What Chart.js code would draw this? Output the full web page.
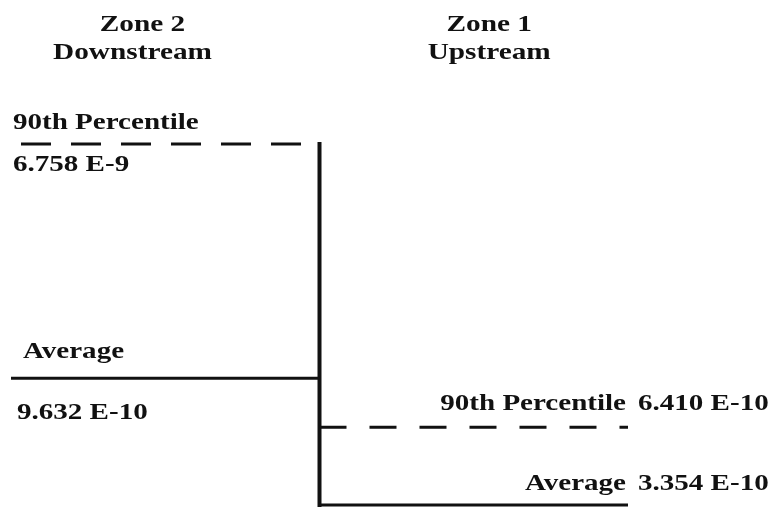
<!DOCTYPE html>
<html>
<head>
<meta charset="utf-8">
<script src="https://cdn.jsdelivr.net/npm/chart.js@4.4.1/dist/chart.umd.min.js"></script>
<style>
  html, body { margin: 0; padding: 0; background: #fff; }
  #wrap { width: 776px; height: 507px; }
</style>
</head>
<body>
<div id="wrap"><canvas id="zoneChart" width="776" height="507"></canvas></div>
<script>
// zones, left to right on the drawing
const zoneNames = ['Zone 2', 'Zone 1'];
const zoneSubtitles = ['Downstream', 'Upstream'];
const zoneStart = [0, 1];          // each zone spans one unit on the x axis
const percentile90 = [6.758e-9, 6.410e-10];
const average = [9.632e-10, 3.354e-10];
const seriesNames = ['90th Percentile', 'Average'];

function fmt(v) {
    // 6.758e-9 -> "6.758 E-9"
    return v.toExponential(3).replace('e', ' E').replace('+', '');
}

const INK = '#111';
const SERIF = '"Liberation Serif", "Times New Roman", serif';
const HEAD_FONT = 'bold 24px ' + SERIF;
const LABEL_FONT = 'bold 24px ' + SERIF;

// the original lettering is stretched sideways
function stretched(ctx, text, x, y, align, sx) {
    ctx.save();
    ctx.translate(x, y);
    ctx.scale(sx, 1);
    ctx.textAlign = align;
    ctx.fillText(text, 0, 0);
    ctx.restore();
}

const labelPlugin = {
    id: 'zoneLabels',
    afterDraw(chart) {
        const ctx = chart.ctx;
        const xs = chart.scales.x;
        const ys = chart.scales.y;
        ctx.save();
        ctx.fillStyle = INK;
        ctx.textBaseline = 'alphabetic';

        // zone headings
        ctx.font = HEAD_FONT;
        const headX = [0.41, 1.55];
        zoneNames.forEach((name, i) => {
            const cx = xs.getPixelForValue(headX[i]);
            stretched(ctx, name, cx + (i === 0 ? 5 : 0), 31, 'center', 1.22);
            stretched(ctx, zoneSubtitles[i], cx - (i === 0 ? 5 : 0), 59, 'center', 1.22);
        });

        ctx.font = LABEL_FONT;
        const sx = 1.21;
        // zone 2: names above the lines, values below
        const left = xs.getPixelForValue(zoneStart[0]);
        let y = ys.getPixelForValue(percentile90[0]);
        stretched(ctx, seriesNames[0], left + 2, y - 15, 'left', sx);
        stretched(ctx, fmt(percentile90[0]), left + 2, y + 27, 'left', sx);
        y = ys.getPixelForValue(average[0]);
        stretched(ctx, seriesNames[1], left + 12, y - 20, 'left', sx);
        stretched(ctx, fmt(average[0]), left + 6, y + 41, 'left', sx);

        // zone 1: names and values beside the line ends
        const right = xs.getPixelForValue(zoneStart[1] + 1);
        y = ys.getPixelForValue(percentile90[1]);
        stretched(ctx, seriesNames[0], right - 2, y - 17, 'right', sx);
        stretched(ctx, fmt(percentile90[1]), right + 10, y - 17, 'left', sx);
        y = ys.getPixelForValue(average[1]);
        stretched(ctx, seriesNames[1], right - 2, y - 15, 'right', sx);
        stretched(ctx, fmt(average[1]), right + 10, y - 15, 'left', sx);
        ctx.restore();
    }
};

const datasets = [];
zoneNames.forEach((name, i) => {
    const x0 = zoneStart[i], x1 = zoneStart[i] + 1;
    datasets.push({
        label: name + ' ' + seriesNames[0],
        data: [{ x: x0, y: percentile90[i] }, { x: x1, y: percentile90[i] }],
        borderColor: INK,
        borderWidth: 3,
        borderDash: i === 0 ? [30, 20] : [27, 23],
        borderDashOffset: i === 0 ? 40 : 0,
        pointRadius: 0
    });
    datasets.push({
        label: name + ' ' + seriesNames[1],
        data: [{ x: x0, y: average[i] }, { x: x1, y: average[i] }],
        borderColor: INK,
        borderWidth: 3,
        pointRadius: 0
    });
});
// zone boundary, from the highest level down to the lowest
datasets.push({
    label: 'boundary',
    data: [{ x: zoneStart[1], y: percentile90[0] }, { x: zoneStart[1], y: average[1] }],
    borderColor: INK,
    borderWidth: 4,
    borderCapStyle: 'square',
    pointRadius: 0
});

function draw() {
    new Chart(document.getElementById('zoneChart'), {
        type: 'line',
        data: { datasets: datasets },
        options: {
            responsive: false,
            animation: false,
            devicePixelRatio: 1,
            layout: { padding: { left: 11, right: 148, top: 144, bottom: 2 } },
            plugins: {
                legend: { display: false },
                tooltip: { enabled: false }
            },
            elements: { line: { tension: 0 } },
            datasets: { line: { clip: false } },
            scales: {
                x: { type: 'linear', min: 0, max: 2, display: false },
                y: {
                    type: 'logarithmic',
                    min: Math.min(...average),
                    max: Math.max(...percentile90),
                    display: false
                }
            }
        },
        plugins: [labelPlugin]
    });
}

Promise.all([document.fonts.load(HEAD_FONT), document.fonts.load(LABEL_FONT)])
    .then(draw, draw);
</script>
</body>
</html>
